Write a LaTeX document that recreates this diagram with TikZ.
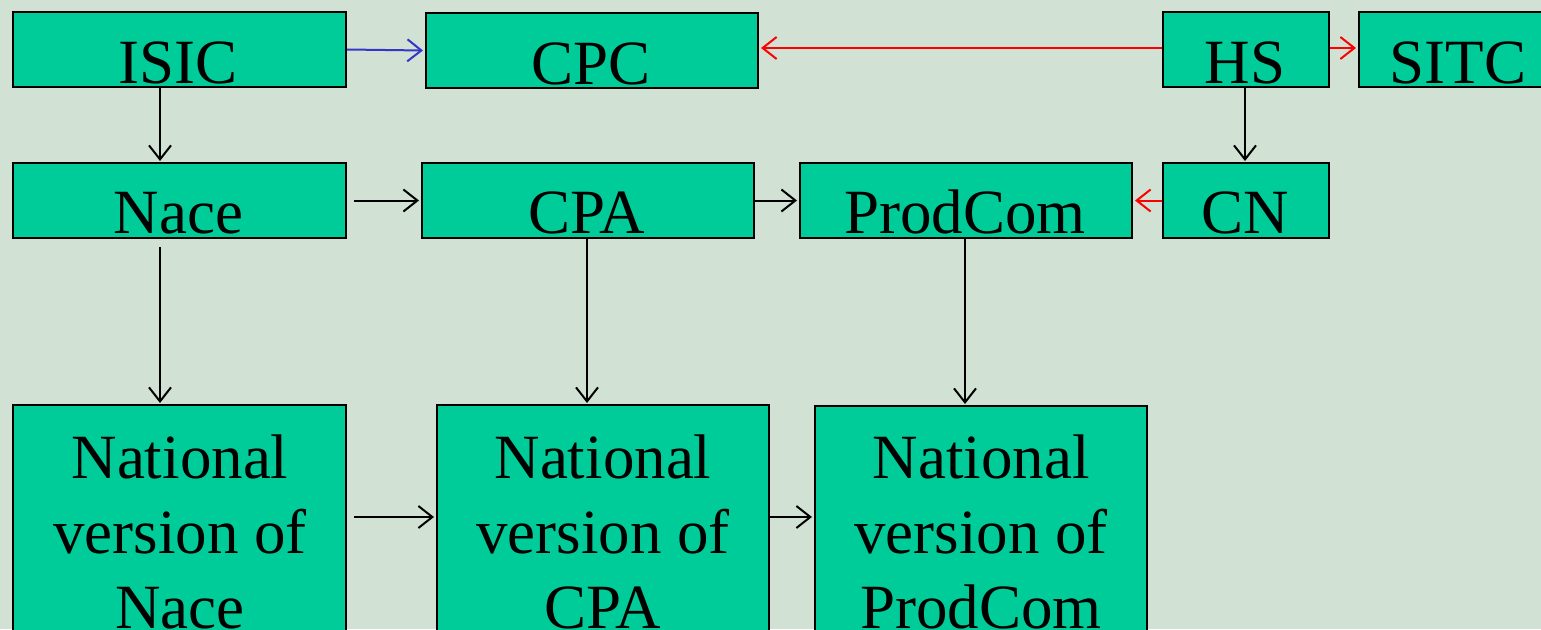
\documentclass[tikz,border=0pt]{standalone}
\usepackage{fontspec}
\setmainfont{Liberation Serif}
\usetikzlibrary{arrows.meta}
\definecolor{bg}{HTML}{D1E1D4}
\definecolor{boxfill}{HTML}{00CC99}
\definecolor{bluearr}{HTML}{3535C8}
\definecolor{redarr}{HTML}{FF0000}
\begin{document}
\begin{tikzpicture}[x=1pt,y=-1pt,
  box/.style={draw=black,line width=2pt,fill=boxfill,inner sep=0pt,anchor=north west},
  txt/.style={inner sep=0pt,anchor=base,font=\fontsize{63}{75}\selectfont},
  arr/.style={draw=black,line width=2pt,-{Straight Barb[length=14pt,width=22pt,line width=2pt]}},
  barr/.style={arr,draw=bluearr},
  rarr/.style={arr,draw=redarr}]
\useasboundingbox (0,0) rectangle (1541,629);
\clip (0,0) rectangle (1541,629);
\fill[bg] (0,0) rectangle (1541,629);
% top row
\node[box,minimum width=333pt,minimum height=75pt] (isic) at (12,11) {};
\node[box,minimum width=332pt,minimum height=75pt] (cpc) at (425,12) {};
\node[box,minimum width=166pt,minimum height=75pt] (hs) at (1162,11) {};
\node[box,minimum width=200pt,minimum height=75pt] (sitc) at (1358,11) {};
% middle row
\node[box,minimum width=333pt,minimum height=75pt] (nace) at (12,162) {};
\node[box,minimum width=332pt,minimum height=75pt] (cpa) at (421,162) {};
\node[box,minimum width=332pt,minimum height=75pt] (prodcom) at (799,162) {};
\node[box,minimum width=166pt,minimum height=75pt] (cn) at (1162,162) {};
% bottom row
\node[box,minimum width=333pt,minimum height=300pt] (nnace) at (12,404) {};
\node[box,minimum width=332pt,minimum height=300pt] (ncpa) at (436,404) {};
\node[box,minimum width=332pt,minimum height=300pt] (nprodcom) at (814,405) {};
% texts
\node[txt] (tisic) at (178.5,83) {ISIC};
\node[txt] (tcpc) at (591,84) {CPC};
\node[txt] (ths) at (1245,83) {HS};
\node[txt] (tsitc) at (1458,83) {SITC};
\node[txt] (tnace) at (178.5,233) {Nace};
\node[txt] (tcpa) at (587,233) {CPA};
\node[txt] (tprodcom) at (965,233) {ProdCom};
\node[txt] (tcn) at (1245,233) {CN};
\node[txt] (tnnace) at (180,478) {\begin{tabular}[t]{@{}c@{}}National\\version of\\Nace\end{tabular}};
\node[txt] (tncpa) at (603,478) {\begin{tabular}[t]{@{}c@{}}National\\version of\\CPA\end{tabular}};
\node[txt] (tnprodcom) at (981,478) {\begin{tabular}[t]{@{}c@{}}National\\version of\\ProdCom\end{tabular}};
% helper coordinates
\coordinate (xa) at (160,0);
\coordinate (xb) at (587,0);
\coordinate (xc) at (965,0);
\coordinate (xd) at (1245,0);
\coordinate (yb) at (0,517);
% connectors
\draw[barr] (isic.east) -- ([xshift=-2pt]cpc.west);
\draw[rarr] (hs.west |- 0,48) -- ([xshift=2pt]cpc.east |- 0,48);
\draw[rarr] (hs.east |- 0,48) -- ([xshift=-2pt]sitc.west |- 0,48);
\draw[arr] (isic.south -| xa) -- ([yshift=1pt]nace.north -| xa);
\draw[arr] (hs.south -| xd) -- ([yshift=1pt]cn.north -| xd);
\draw[arr] ([xshift=7pt]nace.east) -- ([xshift=-2pt]cpa.west);
\draw[arr] (cpa.east) -- ([xshift=-2pt]prodcom.west);
\draw[rarr] (cn.west) -- ([xshift=2pt]prodcom.east);
\draw[arr] ([yshift=-8pt]nace.south -| xa) -- ([yshift=1pt]nnace.north -| xa);
\draw[arr] (cpa.south -| xb) -- ([yshift=1pt]ncpa.north -| xb);
\draw[arr] (prodcom.south -| xc) -- ([yshift=1pt]nprodcom.north -| xc);
\draw[arr] ([xshift=7pt]nnace.east |- yb) -- ([xshift=-2pt]ncpa.west |- yb);
\draw[arr] (ncpa.east |- yb) -- ([xshift=-2pt]nprodcom.west |- yb);
\end{tikzpicture}
\end{document}
